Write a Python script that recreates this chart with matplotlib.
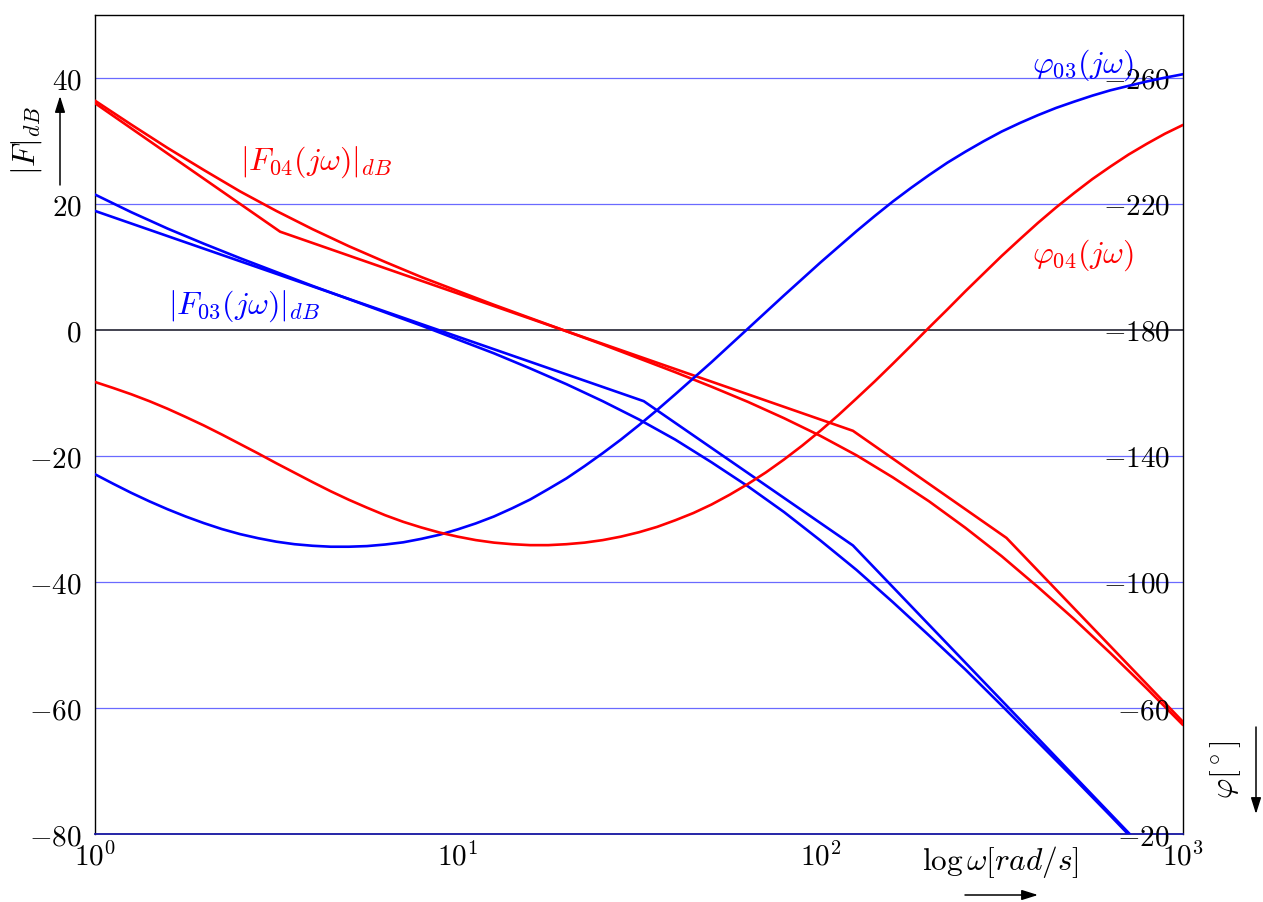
import matplotlib
matplotlib.use("Agg")
import matplotlib.pyplot as plt
from matplotlib.patches import FancyArrowPatch

plt.rcParams["mathtext.fontset"] = "cm"
plt.rcParams["font.family"] = ["DejaVu Serif"]

# ---- data -------------------------------------------------------------
# angular frequency samples [rad/s] for the magnitude curves
omega = [1.0, 1.259, 1.585, 1.995, 2.512, 3.162, 3.981, 5.012, 6.310, 7.943,
         10.0, 12.59, 15.85, 19.95, 25.12, 31.62, 39.81, 50.12, 63.10, 79.43,
         100.0, 125.9, 158.5, 199.5, 251.2, 316.2, 398.1, 501.2, 631.0, 794.3,
         1000.0]

# |F03(jw)| in dB (exact curve)
mag03 = [21.5, 18.7, 16.1, 13.7, 11.4, 9.2, 7.0, 4.9, 2.8, 0.7,
         -1.5, -3.7, -6.1, -8.6, -11.3, -14.2, -17.4, -21.0, -24.8, -28.9,
         -33.4, -38.1, -43.2, -48.5, -53.9, -59.6, -65.4, -71.2, -77.1, -83.1,
         -89.0]
# |F03(jw)| asymptotes (break frequencies and levels)
asym03_w = [1.0, 32.6, 123.0, 713.0]
asym03_db = [18.9, -11.3, -34.2, -80.0]

# |F04(jw)| in dB (exact curve)
mag04 = [36.4, 32.6, 28.9, 25.4, 22.0, 18.9, 16.0, 13.3, 10.8, 8.4,
         6.2, 4.0, 1.9, -0.2, -2.3, -4.5, -6.7, -9.0, -11.4, -14.0,
         -16.8, -19.9, -23.4, -27.2, -31.4, -35.9, -40.8, -45.9, -51.3, -56.9,
         -62.7]
# |F04(jw)| asymptotes
asym04_w = [1.0, 3.24, 123.0, 326.0, 1000.0]
asym04_db = [36.0, 15.6, -16.0, -33.0, -62.2]

# angular frequency samples [rad/s] for the phase curves
omega_ph = [1.0, 1.122, 1.259, 1.413, 1.585, 1.778, 1.995, 2.239, 2.512, 2.818,
            3.162, 3.548, 3.981, 4.467, 5.012, 5.623, 6.310, 7.079, 7.943, 8.913,
            10.0, 11.22, 12.59, 14.13, 15.85, 17.78, 19.95, 22.39, 25.12, 28.18,
            31.62, 35.48, 39.81, 44.67, 50.12, 56.23, 63.10, 70.79, 79.43, 89.13,
            100.0, 112.2, 125.9, 141.3, 158.5, 177.8, 199.5, 223.9, 251.2, 281.8,
            316.2, 354.8, 398.1, 446.7, 501.2, 562.3, 631.0, 707.9, 794.3, 891.3,
            1000.0]

# phase of F03 and F04 in degrees
phase03 = [-134.2, -131.2, -128.3, -125.6, -123.1, -120.8, -118.7, -116.8, -115.2, -113.9,
           -112.8, -112.0, -111.5, -111.2, -111.2, -111.4, -111.9, -112.6, -113.7, -115.0,
           -116.7, -118.6, -120.8, -123.4, -126.2, -129.5, -132.9, -136.8, -140.9, -145.2,
           -149.8, -154.6, -159.6, -164.7, -169.8, -175.1, -180.4, -185.7, -191.0, -196.2,
           -201.4, -206.4, -211.4, -216.2, -220.8, -225.1, -229.2, -233.1, -236.6, -239.9,
           -243.0, -245.7, -248.2, -250.5, -252.5, -254.4, -256.1, -257.5, -258.9, -260.1,
           -261.2]
phase04 = [-163.5, -161.6, -159.6, -157.4, -155.0, -152.4, -149.7, -146.8, -143.8, -140.8,
           -137.7, -134.7, -131.7, -128.8, -126.1, -123.6, -121.2, -119.1, -117.3, -115.7,
           -114.4, -113.3, -112.5, -112.0, -111.7, -111.7, -112.0, -112.5, -113.3, -114.4,
           -115.8, -117.5, -119.6, -121.9, -124.6, -127.7, -131.1, -134.8, -138.9, -143.3,
           -148.0, -153.0, -158.3, -163.7, -169.3, -175.0, -180.8, -186.5, -192.3, -197.9,
           -203.5, -208.8, -214.0, -218.9, -223.5, -227.9, -231.9, -235.7, -239.1, -242.3,
           -245.1]

# axis ticks
db_ticks = [40, 20, 0, -20, -40, -60, -80]
db_labels = ["$40$", "$20$", "$0$", "$-20$", "$-40$", "$-60$", "$-80$"]
deg_ticks = [-260, -220, -180, -140, -100, -60, -20]
deg_labels = ["$-260$", "$-220$", "$-180$", "$-140$", "$-100$", "$-60$", "$-20$"]
w_ticks = [1, 10, 100, 1000]
w_labels = ["$10^{0}$", "$10^{1}$", "$10^{2}$", "$10^{3}$"]
grid_levels = [40, 20, -20, -40, -60]

# ---- figure -----------------------------------------------------------
W, H = 1263, 902
fig = plt.figure(figsize=(W / 100, H / 100), dpi=100)
ax = fig.add_axes([95 / W, 1 - 834 / H, (1183 - 95) / W, (834 - 15) / H])
ax.set_xscale("log")
ax.set_xlim(1, 1000)
ax.set_ylim(-80, 50)

for lev in grid_levels:
    ax.axhline(lev, color="#6a6aff", lw=0.9, zorder=1)
ax.axhline(0, color="#111122", lw=1.1, zorder=1)

RED = "#ff0000"
BLUE = "#0000ff"
lw = 1.9
style = dict(lw=lw, zorder=3, solid_joinstyle="round", solid_capstyle="round")
ax.plot(omega, mag03, color=BLUE, **style)
ax.plot(asym03_w, asym03_db, color=BLUE, **style)
ax.plot(omega, mag04, color=RED, **style)
ax.plot(asym04_w, asym04_db, color=RED, **style)

ax.set_xticks(w_ticks)
ax.set_xticklabels(w_labels)
ax.xaxis.set_minor_locator(matplotlib.ticker.NullLocator())
ax.set_yticks(db_ticks)
ax.set_yticklabels(db_labels)
ax.tick_params(axis="x", length=0, pad=6, labelsize=21)
ax.tick_params(axis="y", length=0, pad=9.5, labelsize=21)

for s in ("top", "left", "right"):
    ax.spines[s].set_color("black")
    ax.spines[s].set_linewidth(1.0)
ax.spines["bottom"].set_color("#1414a0")
ax.spines["bottom"].set_linewidth(1.3)

# phase axis on the right (inverted so that -180 deg sits on 0 dB)
ax2 = ax.twinx()
ax2.set_ylim(-20, -280)
ax2.plot(omega_ph, phase03, color=BLUE, **style)
ax2.plot(omega_ph, phase04, color=RED, **style)
ax2.set_yticks(deg_ticks)
ax2.set_yticklabels(deg_labels, ha="right")
ax2.tick_params(axis="y", length=0, pad=-9.4, labelsize=21)
for s in ax2.spines.values():
    s.set_visible(False)

# curve labels
fs = 23
ax.text(2.51, 26.7, r"$|F_{04}(j\omega)|_{dB}$", color=RED, fontsize=fs,
        ha="left", va="center", zorder=4)
ax.text(1.59, 3.7, r"$|F_{03}(j\omega)|_{dB}$", color=BLUE, fontsize=fs,
        ha="left", va="center", zorder=4)
ax.text(383, 42.0, r"$\varphi_{03}(j\omega)$", color=BLUE, fontsize=fs,
        ha="left", va="center", zorder=4)
ax.text(383, 11.9, r"$\varphi_{04}(j\omega)$", color=RED, fontsize=fs,
        ha="left", va="center", zorder=4)

# axis titles with arrows
fs2 = 22.5
fig.text(27 / W, 1 - 141 / H, r"$|F|_{dB}$", rotation=90, fontsize=fs2,
         ha="center", va="center")
fig.text(1226 / W, 1 - 770 / H, r"$\varphi[^\circ]$", rotation=90, fontsize=fs2,
         ha="center", va="center")
fig.text(1000 / W, 1 - 862 / H, r"$\log\omega[rad/s]$", fontsize=fs2,
         ha="center", va="center")


def arrow(x0, y0, x1, y1):
    fig.add_artist(FancyArrowPatch((x0 / W, 1 - y0 / H), (x1 / W, 1 - y1 / H),
                                   transform=fig.transFigure,
                                   arrowstyle="-|>,head_length=0.7,head_width=0.22",
                                   mutation_scale=14, color="black", lw=1.1,
                                   shrinkA=0, shrinkB=0))


arrow(60, 185, 60, 96)
arrow(1256, 727, 1256, 814)
arrow(965, 895, 1038, 895)

fig.savefig("out.png", dpi=100)
